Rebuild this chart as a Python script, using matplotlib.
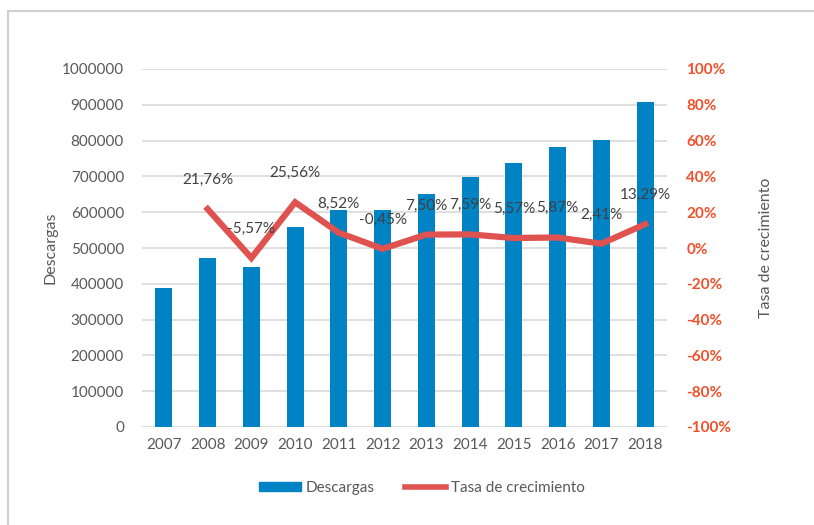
import matplotlib.pyplot as plt
from matplotlib.lines import Line2D
from matplotlib.ticker import FuncFormatter

years = ['2007', '2008', '2009', '2010', '2011', '2012',
         '2013', '2014', '2015', '2016', '2017', '2018']
descargas = [388000, 472500, 446500, 560000, 607500, 605000,
             650500, 699500, 738500, 782000, 801000, 907000]
tasa_years = years[1:]
tasa = [21.76, -5.57, 25.56, 8.52, -0.45, 7.50,
        7.59, 5.57, 5.87, 2.41, 13.29]
tasa_labels = ['21,76%', '-5,57%', '25,56%', '8,52%', '-0,45%', '7,50%',
               '7,59%', '5,57%', '5,87%', '2,41%', '13,29%']

plt.rcParams['font.family'] = ['Lato', 'DejaVu Sans']
bar_color = '#0083C4'
line_color = '#E05250'
right_color = '#F0502A'
text_color = '#595959'

fig = plt.figure(figsize=(8.14, 5.25), dpi=100)
ax = fig.add_axes([142/814, 1-427/525, 525/814, 358/525])
ax2 = ax.twinx()

x = list(range(len(years)))
ax.bar(x, descargas, width=0.39, color=bar_color, zorder=2)
ax.set_xlim(-0.5, len(years) - 0.5)
ax.set_ylim(0, 1000000)
ax.set_yticks(range(0, 1000001, 100000))
ax.yaxis.set_major_formatter(FuncFormatter(lambda v, p: f'{int(v)}'))
ax.yaxis.grid(True, color='#D9D9D9', linewidth=1.2, zorder=0)
ax.set_axisbelow(True)
ax.set_xticks(x)
ax.set_xticklabels(years)
ax.tick_params(axis='both', length=0, labelsize=11, colors=text_color, pad=8)
ax.tick_params(axis='y', pad=13)
for s in ax.spines.values():
    s.set_visible(False)
ax.set_ylabel('Descargas', fontsize=11.5, color=text_color, labelpad=3)

tx = [years.index(y) for y in tasa_years]
ax2.plot(tx, tasa, color=line_color, linewidth=4.5, solid_joinstyle='miter', zorder=3)
ax2.set_ylim(-100, 100)
ax2.set_yticks(range(-100, 101, 20))
ax2.yaxis.set_major_formatter(FuncFormatter(lambda v, p: f'{int(v)}%'))
ax2.tick_params(axis='y', length=0, labelsize=11, colors=right_color, pad=14)
for lab in ax2.get_yticklabels():
    lab.set_fontweight('bold')
for s in ax2.spines.values():
    s.set_visible(False)
ax2.set_ylabel('Tasa de crecimiento', fontsize=11.5, color=text_color, labelpad=20)

for xi, v, lab in zip(tx, tasa, tasa_labels):
    ax2.annotate(lab, (xi, v), xytext=(0, 21), textcoords='offset points',
                 ha='center', va='center', fontsize=11, color='#404040')

handles = [plt.Rectangle((0, 0), 1, 1, color=bar_color),
           Line2D([0], [0], color=line_color, linewidth=4)]
fig.legend(handles, ['Descargas', 'Tasa de crecimiento'], loc='center',
           bbox_to_anchor=(422/814, 1-488/525), ncol=2, frameon=False,
           fontsize=11, labelcolor=text_color, handlelength=2.7,
           handleheight=0.6, columnspacing=2.0, handletextpad=0.3)

fig.add_artist(Line2D([8/814, 1], [1-10.5/525, 1-10.5/525], color='#D0D0D0', linewidth=1.5))
fig.add_artist(Line2D([8/814, 8/814], [0, 1-10.5/525], color='#D0D0D0', linewidth=1.5))

fig.savefig('out.png', dpi=100)
